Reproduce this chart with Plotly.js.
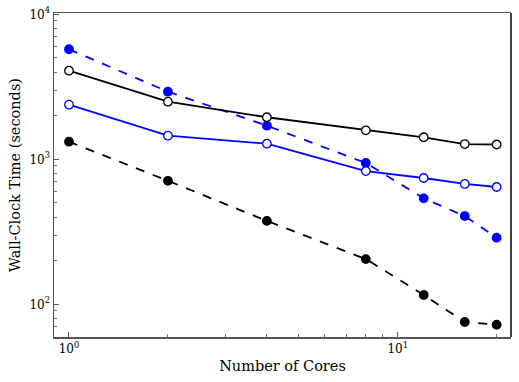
<!DOCTYPE html>
<html>
<head>
<meta charset="utf-8">
<script src="https://cdn.plot.ly/plotly-3.0.1.min.js"></script>
<style>
  html, body { margin: 0; padding: 0; background: #fff; }
  #plot { width: 519px; height: 382px; }
</style>
</head>
<body>
<div id="plot"></div>
<script>
  // cores used in each run
  var cores = [1, 2, 4, 8, 12, 16, 20];

  // wall-clock times (seconds)
  var blackOpen = [4085, 2496, 1950, 1585, 1419, 1274, 1265];
  var blueOpen = [2381, 1455, 1281, 830, 743, 676, 644];
  var blueFilled = [5740, 2926, 1706, 943, 538, 406, 288];
  var blackFilled = [1323, 711, 376, 205, 116, 75.5, 72.3];

  var xTickVals = [1, 10];
  var xTickText = ['10<sup>0</sup>', '10<sup>1</sup>'];
  var yTickVals = [100, 1000, 10000];
  var yTickText = ['10<sup>2</sup>', '10<sup>3</sup>', '10<sup>4</sup>'];

  var xMinor = [2, 3, 4, 5, 6, 7, 8, 9, 20];
  var yMinor = [60, 70, 80, 90, 200, 300, 400, 500, 600, 700, 800, 900,
                2000, 3000, 4000, 5000, 6000, 7000, 8000, 9000];

  function series(y, color, filled, dash) {
    return {
      x: cores, y: y, type: 'scatter', mode: 'lines+markers',
      line: {color: color, width: 1.8, dash: dash},
      marker: {
        symbol: 'circle', size: 8.5,
        color: filled ? color : '#ffffff',
        line: {color: color, width: 1.3}
      },
      showlegend: false
    };
  }

  var data = [
    series(blackFilled, '#000000', true, 'dash'),
    series(blueFilled, '#0000ff', true, 'dash'),
    series(blueOpen, '#0000ff', false, 'solid'),
    series(blackOpen, '#000000', false, 'solid')
  ];

  var tickFont = {family: 'DejaVu Serif', size: 12, color: '#000'};
  var titleFont = {family: 'DejaVu Serif', size: 14.5, color: '#000'};

  var layout = {
    width: 519, height: 382,
    margin: {l: 54, r: 8, t: 13, b: 45},
    paper_bgcolor: '#fff', plot_bgcolor: '#fff',
    font: {family: 'DejaVu Serif', color: '#000'},
    xaxis: {
      type: 'log', range: [-0.0456, 1.3447],
      tickvals: xTickVals, ticktext: xTickText,
      ticks: 'inside', ticklen: 5, tickcolor: '#555', tickwidth: 1,
      minor: {tickvals: xMinor, ticks: 'inside', ticklen: 3, tickcolor: '#777'},
      showgrid: false, zeroline: false,
      showline: true, linecolor: '#555', linewidth: 1.5, mirror: true,
      tickfont: tickFont,
      title: {text: 'Number of Cores', font: titleFont, standoff: 6}
    },
    yaxis: {
      type: 'log', range: [1.7745, 4.009],
      tickvals: yTickVals, ticktext: yTickText,
      ticks: 'inside', ticklen: 5, tickcolor: '#555', tickwidth: 1,
      minor: {tickvals: yMinor, ticks: 'inside', ticklen: 3, tickcolor: '#777'},
      showgrid: false, zeroline: false,
      showline: true, linecolor: '#555', linewidth: 1.5,
      tickfont: tickFont,
      title: {text: 'Wall-Clock Time (seconds)', font: titleFont, standoff: 5}
    },
    shapes: [{
      type: 'line', xref: 'paper', yref: 'paper',
      x0: 1, x1: 1, y0: 0, y1: 1,
      line: {color: '#000', width: 1.5}
    }]
  };

  Plotly.newPlot('plot', data, layout, {staticPlot: true});
</script>
</body>
</html>
